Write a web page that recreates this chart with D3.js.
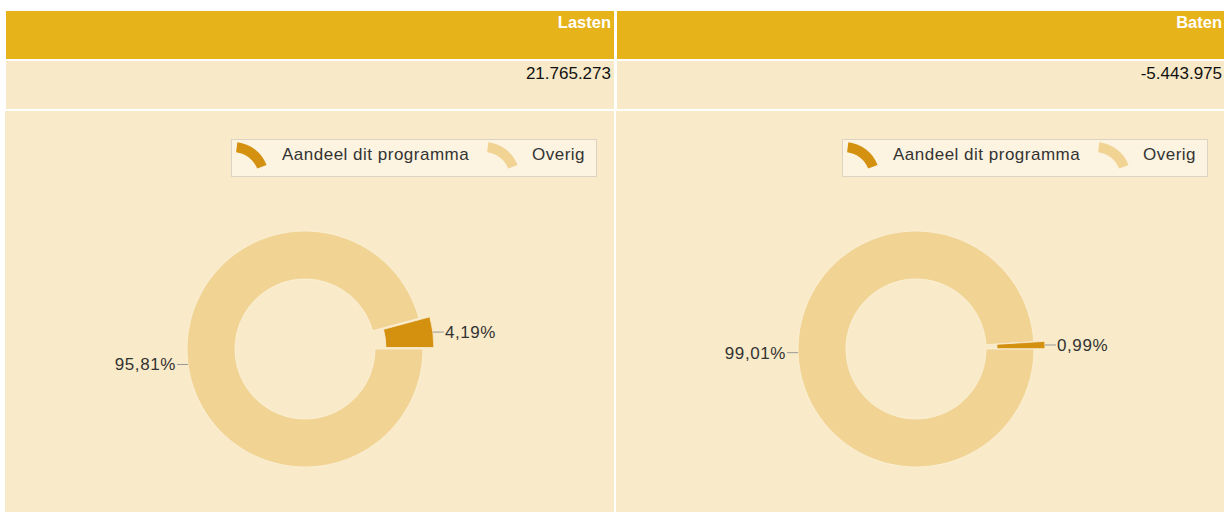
<!DOCTYPE html>
<html>
<head>
<meta charset="utf-8">
<script src="https://cdn.jsdelivr.net/npm/d3@7/dist/d3.min.js"></script>
<style>
  html, body { margin: 0; padding: 0; background: #ffffff; }
  svg { display: block; font-family: "Liberation Sans", Arial, sans-serif; }
</style>
</head>
<body>
<svg id="chart" width="1224" height="512"></svg>
<script>
// ---- data ----
const panels = ["Lasten", "Baten"];
const totals = ["21.765.273", "-5.443.975"];
const seriesNames = ["Aandeel dit programma", "Overig"];
const shareValues = [4.19, 0.99];   // Aandeel dit programma (%)
const otherValues = [95.81, 99.01]; // Overig (%)

const colors = { share: "#D4900F", other: "#F1D393" };

const nl = d3.formatLocale({ decimal: ",", thousands: ".", grouping: [3], currency: ["€", ""] });
const pct = v => nl.format(".2f")(v) + "%";

const svg = d3.select("#chart");
const W = 1224, H = 512;

// column layout
const colScale = d3.scaleBand().domain(panels).range([5, 1225]).paddingInner(0.0033);

panels.forEach((p, i) => {
  const x0 = colScale(p), w = colScale.bandwidth();
  const g = svg.append("g");
  // header row
  g.append("rect").attr("x", x0 + 1).attr("y", 11).attr("width", w - 1).attr("height", 48).attr("fill", "#E6B31A");
  g.append("text").attr("x", x0 + w - 3).attr("y", 28).attr("text-anchor", "end")
    .attr("fill", "#ffffff").attr("font-weight", "bold").attr("font-size", 16.5).text(p);
  // value row
  g.append("rect").attr("x", x0 + 1).attr("y", 61).attr("width", w - 1).attr("height", 48).attr("fill", "#F8EAC8");
  g.append("text").attr("x", x0 + w - 3).attr("y", 79).attr("text-anchor", "end")
    .attr("fill", "#111").attr("font-size", 17).text(totals[i]);
  // chart row
  g.append("rect").attr("x", x0).attr("y", 111).attr("width", w).attr("height", H - 111).attr("fill", "#F9EBC9");

  // legend
  const lx = x0 + 226, ly = 139;
  const leg = g.append("g").attr("transform", `translate(${lx},${ly})`);
  leg.append("rect").attr("x", 0.5).attr("y", 0.5).attr("width", 365).attr("height", 37)
    .attr("fill", "#FCF3E0").attr("stroke", "#DCD3C2").attr("stroke-width", 1);
  const symArc = d3.arc().innerRadius(26).outerRadius(36).startAngle(0.12).endAngle(1.2);
  const legItems = [
    { name: seriesNames[0], color: colors.share, sx: 2, tx: 51 },
    { name: seriesNames[1], color: colors.other, sx: 253, tx: 301 }
  ];
  legItems.forEach(it => {
    leg.append("path").attr("d", symArc())
      .attr("transform", `translate(${it.sx},${39})`).attr("fill", it.color);
    leg.append("text").attr("x", it.tx).attr("y", 21).attr("font-size", 17)
      .attr("letter-spacing", 0.5).attr("fill", "#333").text(it.name);
  });

  // donut
  const cx = x0 + 300, cy = 349;
  const outerR = 118, innerR = 70, explode = 11;
  const data = [
    { key: "other", value: otherValues[i] },
    { key: "share", value: shareValues[i] }
  ];
  const pie = d3.pie().sort(null).value(d => d.value)
    .startAngle(Math.PI / 2).endAngle(Math.PI / 2 + 2 * Math.PI);
  const arcs = pie(data);
  const arc = d3.arc().innerRadius(innerR).outerRadius(outerR);
  const dg = g.append("g").attr("transform", `translate(${cx},${cy})`);

  arcs.forEach(a => {
    const mid = (a.startAngle + a.endAngle) / 2;
    const off = a.data.key === "share" ? explode : 0;
    const dx = Math.sin(mid) * off, dy = -Math.cos(mid) * off;
    dg.append("path").attr("d", arc(a))
      .attr("transform", `translate(${dx},${dy})`)
      .attr("fill", colors[a.data.key])
      .attr("stroke", "#FBF1DA").attr("stroke-width", 0.8);

    // label with connector
    const ex = Math.sin(mid) * (outerR + off), ey = -Math.cos(mid) * (outerR + off);
    const right = Math.sin(mid) > 0;
    const lineLen = 11;
    const x2 = ex + (right ? lineLen : -lineLen);
    dg.append("line").attr("x1", ex).attr("y1", ey).attr("x2", x2).attr("y2", ey)
      .attr("stroke", "#999").attr("stroke-width", 1);
    dg.append("text").attr("x", x2 + (right ? 1 : -1)).attr("y", ey).attr("dy", "0.35em")
      .attr("text-anchor", right ? "start" : "end").attr("font-size", 17)
      .attr("letter-spacing", 0.6).attr("fill", "#333").text(pct(a.data.value));
  });
});
</script>
</body>
</html>
